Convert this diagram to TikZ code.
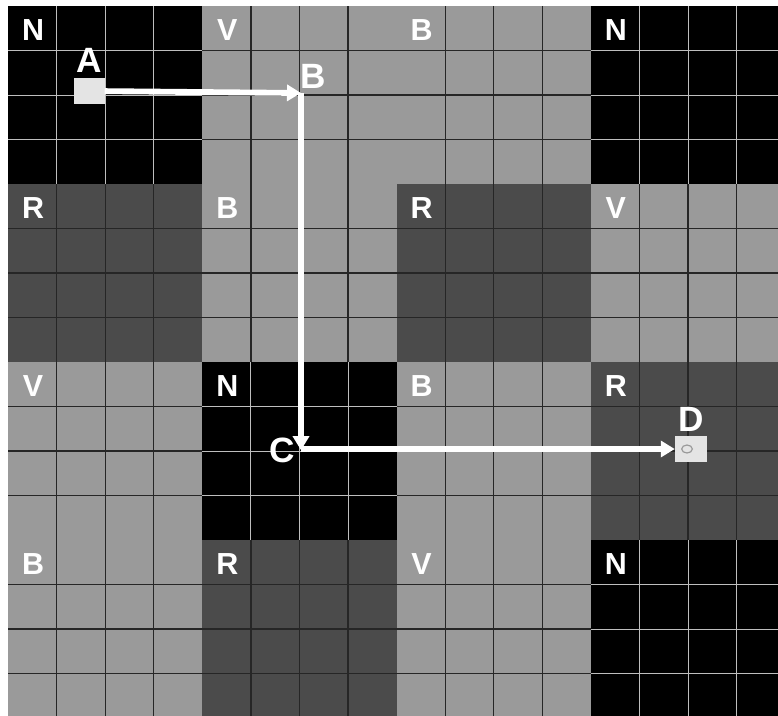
\documentclass[tikz,border=0pt]{standalone}
\usepackage{fontspec}
\setsansfont{Liberation Sans}
\usetikzlibrary{arrows.meta,positioning}
\definecolor{zonelight}{HTML}{9A9A9A}
\definecolor{zonedark}{HTML}{4B4B4B}
\definecolor{lineonblack}{HTML}{BEBEBE}
\definecolor{lineongray}{HTML}{262626}
\definecolor{markfill}{HTML}{E4E4E4}
\tikzset{
  zoneN/.style={fill=black},
  zoneV/.style={fill=zonelight},
  zoneB/.style={fill=zonelight},
  zoneR/.style={fill=zonedark},
  cellsN/.style={draw=lineonblack, line width=0.8pt},
  cellsV/.style={draw=lineongray, line width=1.1pt},
  cellsB/.style={draw=lineongray, line width=1.1pt},
  cellsR/.style={draw=black!85, line width=1.1pt},
  zonetag/.style={text=white, inner sep=0pt, font=\sffamily\bfseries\fontsize{26}{26}\selectfont},
  pointtag/.style={text=white, inner sep=0pt, font=\sffamily\bfseries\fontsize{30}{30}\selectfont},
  pointbox/.style={rectangle, fill=markfill, inner sep=0pt, minimum width=0.93cm, minimum height=0.8cm},
  route/.style={white, line width=5pt, -{Triangle[length=0.42cm,width=0.48cm]}}
}

\begin{document}
\begin{tikzpicture}[x=0.03cm, y=-0.03cm]
\useasboundingbox (0,0) rectangle (778,715);
\begin{scope}
\clip (0,0) rectangle (778,715);
\foreach \r/\row in {0/{N,V,B,N},1/{R,B,R,V},2/{V,N,B,R},3/{B,R,V,N}}{
  \foreach \k [count=\c from 0] in \row{
    \pgfmathsetmacro{\xa}{8+194.3*\c}
    \pgfmathsetmacro{\ya}{6+178*\r}
    \fill[zone\k] (\xa,\ya) rectangle ++(194.3,178);
    \foreach \i in {1,2,3}{
      \draw[cells\k] (\xa+48.575*\i,\ya) -- ++(0,178);
      \draw[cells\k] (\xa,\ya+44.5*\i) -- ++(194.3,0);
    }
    \node[zonetag] at (\xa+25,\ya+24) {\k};
  }
}
\end{scope}

\node[pointbox] (A) at (89,91) {};
\coordinate (B) at (301,93);
\coordinate (C) at (301,449);
\node[pointbox, minimum width=0.96cm] (D) at (691,449) {};
\draw[gray!80, line width=1pt] ([xshift=-0.12cm]D.center) ellipse (0.16cm and 0.12cm);

\node[pointtag, above=0.14cm of A] (tagA) {A};
\node[pointtag] (tagB) at (313,76) {B};
\node[pointtag] (tagC) at (282,450) {C};
\node[pointtag, above=0.1cm of D] (tagD) {D};

\draw[route] (A) -- (B);
\draw[route, shorten >=-1pt] (B) -- (C);
\draw[route] (C) -- (D);
\end{tikzpicture}
\end{document}
